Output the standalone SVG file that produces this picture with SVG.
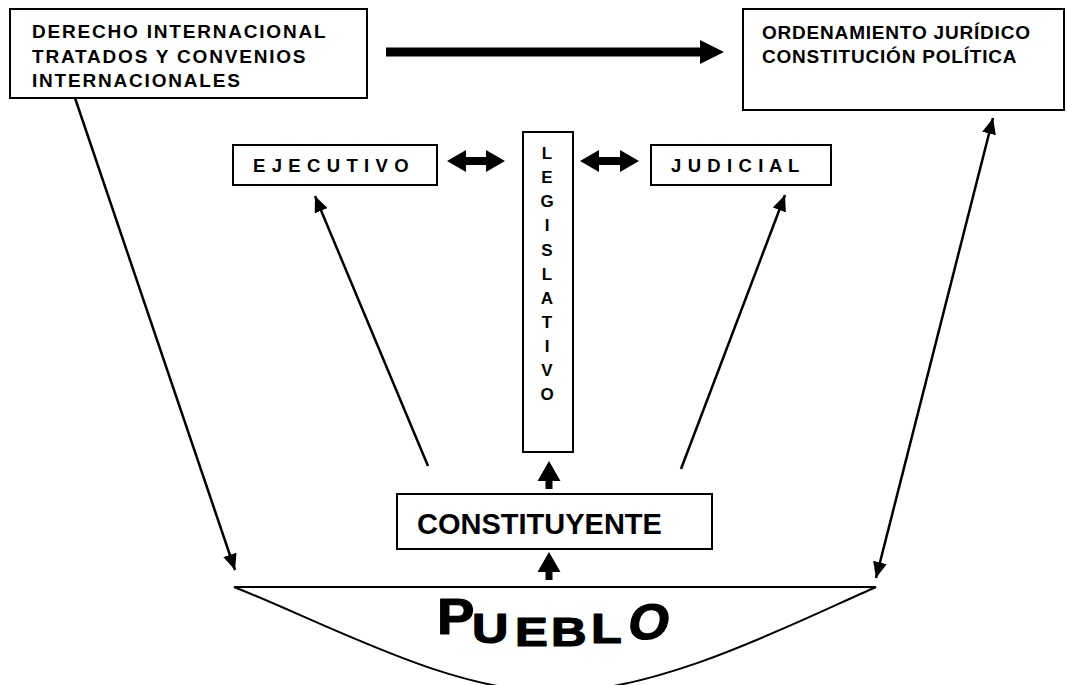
<svg xmlns="http://www.w3.org/2000/svg" width="1067" height="685" viewBox="0 0 1067 685">
<style>
.box{fill:#fff;stroke:#000;stroke-width:2}
.t{font-family:"Liberation Sans",Arial,sans-serif;font-weight:bold;fill:#000}
.pb{font-family:"Liberation Sans",Arial,sans-serif;font-weight:bold;fill:#000;stroke:#000;stroke-width:1.2;stroke-linejoin:round}
.ln{stroke:#000;stroke-width:2.5;fill:none}
.fat{fill:#000;stroke:none}
</style>
<defs>
<marker id="ah" markerUnits="userSpaceOnUse" markerWidth="18" markerHeight="14" refX="16" refY="7" orient="auto-start-reverse"><path d="M0,0 L16,7 L0,14 Z" fill="#000"/></marker>
</defs>
<rect width="1067" height="685" fill="#fff"/>
<g id="derecho">
<rect class="box" x="10" y="9" width="357" height="89"/>
<text class="t" font-size="19" letter-spacing="1.8"><tspan x="32" y="38">DERECHO INTERNACIONAL</tspan><tspan x="32" y="63">TRATADOS Y CONVENIOS</tspan><tspan x="32" y="87">INTERNACIONALES</tspan></text>
</g>
<g id="ordenamiento">
<rect class="box" x="743" y="9" width="321" height="101"/>
<text class="t" font-size="19" letter-spacing="0.8"><tspan x="762" y="39">ORDENAMIENTO JURÍDICO</tspan><tspan x="762" y="63">CONSTITUCIÓN POLÍTICA</tspan></text>
</g>
<g id="ejecutivo">
<rect class="box" x="233" y="145" width="204" height="40"/>
<text class="t" font-size="18.5" letter-spacing="0.6" x="253" y="172">E J E C U T I V O</text>
</g>
<g id="legislativo">
<rect class="box" x="523" y="132" width="50" height="320"/>
<text class="t" font-size="17" text-anchor="middle"><tspan x="547" y="159">L</tspan><tspan x="547" y="183">E</tspan><tspan x="547" y="207">G</tspan><tspan x="547" y="231">I</tspan><tspan x="547" y="256">S</tspan><tspan x="547" y="280">L</tspan><tspan x="547" y="304">A</tspan><tspan x="547" y="328">T</tspan><tspan x="547" y="352">I</tspan><tspan x="547" y="376">V</tspan><tspan x="547" y="400">O</tspan></text>
</g>
<g id="judicial">
<rect class="box" x="651" y="145" width="180" height="40"/>
<text class="t" font-size="18.5" letter-spacing="0.6" x="671" y="172">J U D I C I A L</text>
</g>
<g id="constituyente">
<rect class="box" x="397" y="494" width="315" height="55"/>
<text class="t" font-size="29" x="417" y="534">CONSTITUYENTE</text>
</g>
<g id="pueblo">
<path d="M234,587 L876,587 C790,625 660,692 555,692 C450,692 330,625 234,587 Z" fill="#fff" stroke="#000" stroke-width="2"/>
<text class="pb" font-size="50" transform="translate(437,634) scale(1.12,1)">P</text>
<text class="pb" font-size="42" transform="translate(472,643) scale(1.2,1)">U</text>
<text class="pb" font-size="41" transform="translate(515,646) scale(1.2,1)">E</text>
<text class="pb" font-size="41" transform="translate(551,646) scale(1.2,1)">B</text>
<text class="pb" font-size="42" transform="translate(591,643) scale(1.2,1)">L</text>
<text class="pb" font-size="50" transform="translate(626,639) skewX(-10) scale(1.05,1)">O</text>
</g>
<g id="connectors">
<polygon class="fat" points="386,47.5 700,47.5 700,40 724,52 700,64 700,56.5 386,56.5"/>
<polygon class="fat" points="447,161 466,150 466,157 486,157 486,150 505,161 486,172 486,165 466,165 466,172"/>
<polygon class="fat" points="580,161 599,150 599,157 620,157 620,150 639,161 620,172 620,165 599,165 599,172"/>
<polygon class="fat" points="549,461 560.5,481 552.5,481 552.5,489 545.5,489 545.5,481 537.5,481"/>
<polygon class="fat" points="549,552 560.5,572 552.5,572 552.5,580 545.5,580 545.5,572 537.5,572"/>
<line class="ln" x1="75" y1="98" x2="235" y2="570" marker-end="url(#ah)"/>
<line class="ln" x1="876" y1="578" x2="993" y2="118" marker-start="url(#ah)" marker-end="url(#ah)"/>
<line class="ln" x1="428" y1="466" x2="315" y2="196" marker-end="url(#ah)"/>
<line class="ln" x1="681" y1="469" x2="785" y2="195" marker-end="url(#ah)"/>
</g>
</svg>
